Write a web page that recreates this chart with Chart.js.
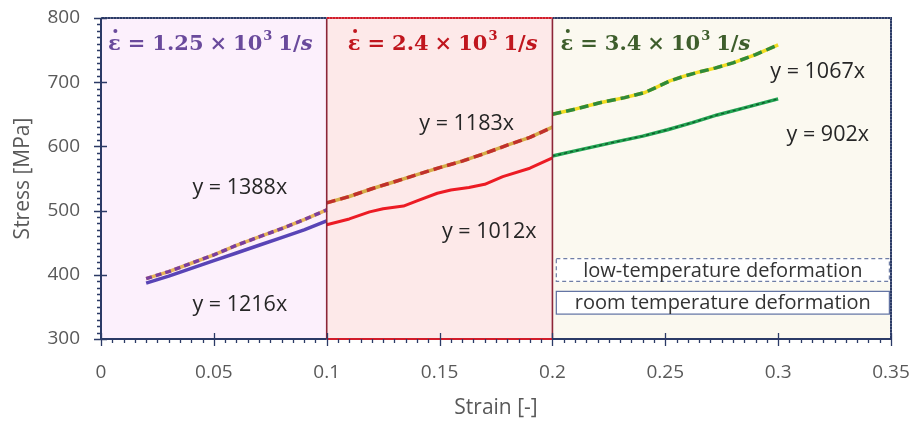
<!DOCTYPE html>
<html>
<head>
<meta charset="utf-8">
<script src="https://cdn.jsdelivr.net/npm/chart.js@4.4.1/dist/chart.umd.min.js"></script>
<style>
  html, body { margin: 0; padding: 0; background: #ffffff; }
  #wrap { width: 913px; height: 423px; }
</style>
</head>
<body>
<div id="wrap"><canvas id="c" width="913" height="423"></canvas></div>
<script>
// Stress–strain curves at three strain rates (room vs. low temperature)
const strainRoom1 = [0.02, 0.03, 0.04, 0.05, 0.06, 0.07, 0.08, 0.09, 0.1];
const stressRoom1 = [387, 398, 410, 422, 434, 446, 458, 470, 484];
const strainLow1  = [0.02, 0.03, 0.04, 0.05, 0.06, 0.07, 0.08, 0.09, 0.1];
const stressLow1  = [394, 405, 418, 431, 446, 459, 472, 486, 501];

const strainRoom2 = [0.1, 0.11, 0.119, 0.125, 0.134, 0.14, 0.149, 0.155, 0.163, 0.17, 0.178, 0.19, 0.2];
const stressRoom2 = [478, 487, 498, 503, 507, 515, 527, 532, 536, 541, 553, 566, 582];
const strainLow2  = [0.1, 0.11, 0.12, 0.13, 0.14, 0.15, 0.16, 0.17, 0.18, 0.19, 0.2];
const stressLow2  = [512, 522, 534, 545, 556, 567, 577, 589, 602, 614, 630];

const strainRoom3 = [0.2, 0.21, 0.228, 0.24, 0.251, 0.262, 0.273, 0.285, 0.3];
const stressRoom3 = [585, 593, 607, 616, 626, 637, 649, 660, 674];
const strainLow3  = [0.2, 0.21, 0.221, 0.232, 0.241, 0.246, 0.252, 0.258, 0.265, 0.272, 0.28, 0.29, 0.3];
const stressLow3  = [650, 658, 668, 676, 684, 692, 702, 709, 716, 722, 730, 743, 758];

// Strain-rate bands and their headings
const bandEdges = [0, 0.1, 0.2, 0.35];
const rateMantissa = ['1.25', '2.4', '3.4'];
const rateExponent = ['3', '3', '3'];

// Linear-fit annotations
const fitLabels = ['y = 1388x', 'y = 1216x', 'y = 1183x', 'y = 1012x', 'y = 1067x', 'y = 902x'];

// Legend entries
const legendLabels = ['low-temperature deformation', 'room temperature deformation'];

// Axis ticks
const strainTicks = [0, 0.05, 0.1, 0.15, 0.2, 0.25, 0.3, 0.35];
const stressTicks = [300, 400, 500, 600, 700, 800];

const pts = (xs, ys) => xs.map((x, i) => ({ x, y: ys[i] }));

// Styling
const bandFill = ['#fcf0fc', '#fde9e9', '#fbf9f0'];
const headColor = ['#6a4a9c', '#c0161e', '#3e5e2c'];
const headOffset = [7, 21, 8];
const fitAnchor = [[0.0615, 535], [0.0615, 353], [0.162, 635], [0.172, 467], [0.3175, 716], [0.322, 618]];
const navy = '#2b3a66';
const uiFont = '"Open Sans", sans-serif';

function line(data, color, width, dash, order) {
  return {
    data, borderColor: color, borderWidth: width, borderDash: dash || [],
    pointRadius: 0, fill: false, tension: 0, order,
    borderCapStyle: 'butt', borderJoinStyle: 'round'
  };
}

const datasets = [
  // low temperature: yellow base + coloured dashes
  line(pts(strainLow1, stressLow1), '#e6b456', 3.5, [], 4),
  line(pts(strainLow1, stressLow1), '#7a3e9e', 3.5, [6, 4], 3),
  line(pts(strainLow2, stressLow2), '#d6ad48', 3.5, [], 4),
  line(pts(strainLow2, stressLow2), '#c0302c', 3.5, [9, 5], 3),
  line(pts(strainLow3, stressLow3), '#f2dc22', 3.5, [], 4),
  line(pts(strainLow3, stressLow3), '#2f8a3a', 3.5, [9, 5], 3),
  // room temperature: solid lines
  line(pts(strainRoom1, stressRoom1), '#5944b6', 3.5, [], 2),
  line(pts(strainRoom2, stressRoom2), '#ec1b24', 3, [], 2),
  line(pts(strainRoom3, stressRoom3), '#22a452', 3.5, [], 2),
  line(pts(strainRoom3, stressRoom3), '#0f5a2c', 1.4, [3, 3], 1)
];

const bandsPlugin = {
  id: 'bands',
  beforeDatasetsDraw(chart) {
    const { ctx, chartArea: a, scales: { x } } = chart;
    ctx.save();
    for (let i = 0; i < bandEdges.length - 1; i++) {
      const x0 = x.getPixelForValue(bandEdges[i]);
      const x1 = x.getPixelForValue(bandEdges[i + 1]);
      ctx.fillStyle = bandFill[i];
      ctx.fillRect(x0, a.top, x1 - x0, a.bottom - a.top);
    }
    ctx.restore();
  },
  afterDatasetsDraw(chart) {
    const { ctx, chartArea: a, scales: { x } } = chart;
    ctx.save();
    // middle band outline
    const m0 = x.getPixelForValue(bandEdges[1]);
    const m1 = x.getPixelForValue(bandEdges[2]);
    ctx.strokeStyle = '#8c2638';
    ctx.lineWidth = 1.6;
    ctx.beginPath();
    ctx.moveTo(m0, a.top); ctx.lineTo(m0, a.bottom);
    ctx.moveTo(m1, a.top); ctx.lineTo(m1, a.bottom);
    ctx.stroke();
    // frame: top and right, dotted look
    ctx.strokeStyle = navy;
    ctx.lineWidth = 2;
    ctx.beginPath();
    ctx.moveTo(a.left, a.top); ctx.lineTo(m0, a.top);
    ctx.moveTo(m1, a.top); ctx.lineTo(a.right, a.top); ctx.lineTo(a.right, a.bottom);
    ctx.stroke();
    ctx.strokeStyle = '#d21c2a';
    ctx.beginPath();
    ctx.moveTo(m0, a.top); ctx.lineTo(m1, a.top);
    ctx.stroke();
    ctx.strokeStyle = 'rgba(255,255,255,0.45)';
    ctx.lineWidth = 1;
    ctx.setLineDash([1, 2]);
    ctx.beginPath();
    ctx.moveTo(a.left, a.top); ctx.lineTo(a.right, a.top); ctx.lineTo(a.right, a.bottom);
    ctx.stroke();
    ctx.setLineDash([]);
    ctx.restore();
  }
};

const axesPlugin = {
  id: 'axesTicks',
  afterDraw(chart) {
    const { ctx, chartArea: a, scales: { x, y } } = chart;
    ctx.save();
    ctx.strokeStyle = navy;
    ctx.lineWidth = 2;
    ctx.beginPath();
    ctx.moveTo(a.left, a.top); ctx.lineTo(a.left, a.bottom);
    const m0 = x.getPixelForValue(bandEdges[1]);
    const m1 = x.getPixelForValue(bandEdges[2]);
    ctx.moveTo(a.left, a.bottom); ctx.lineTo(m0, a.bottom);
    ctx.moveTo(m1, a.bottom); ctx.lineTo(a.right, a.bottom);
    ctx.stroke();
    ctx.strokeStyle = '#d21c2a';
    ctx.beginPath();
    ctx.moveTo(m0, a.bottom); ctx.lineTo(m1, a.bottom);
    ctx.stroke();

    ctx.strokeStyle = navy;
    ctx.lineWidth = 1.3;
    ctx.beginPath();
    // x minor ticks every 0.005, majors at labelled values
    for (let k = 0; k <= 70; k++) {
      const px = Math.round(x.getPixelForValue(k * 0.005)) + 0.5;
      if (k % 10 === 0) { ctx.moveTo(px, a.bottom - 6); ctx.lineTo(px, a.bottom + 7); }
      else { ctx.moveTo(px, a.bottom); ctx.lineTo(px, a.bottom + 4); }
    }
    // y minor ticks every 10 MPa
    for (let v = 300; v <= 800; v += 10) {
      const py = Math.round(y.getPixelForValue(v)) + 0.5;
      if (v % 100 === 0) { ctx.moveTo(a.left - 7, py); ctx.lineTo(a.left + 6, py); }
      else { ctx.moveTo(a.left - 4, py); ctx.lineTo(a.left, py); }
    }
    ctx.stroke();
    ctx.restore();
  }
};

function drawRuns(ctx, x, y, runs) {
  let cx = x;
  for (const r of runs) {
    ctx.font = r.font;
    const w = ctx.measureText(r.text).width;
    ctx.fillText(r.text, cx, y + (r.dy || 0));
    if (r.dot) {
      ctx.beginPath();
      ctx.arc(cx + w / 2 + 1, y - 19, 2, 0, Math.PI * 2);
      ctx.fill();
    }
    cx += w + (r.gap || 0);
  }
}

const textPlugin = {
  id: 'texts',
  afterDatasetsDraw(chart) {
    const { ctx, scales: { x, y } } = chart;
    ctx.save();
    // strain-rate headings
    ctx.textBaseline = 'alphabetic';
    ctx.textAlign = 'left';
    const serif = '"DejaVu Serif", "Liberation Serif", serif';
    const bold = 'bold 21px ' + serif;
    const sup = 'bold 13px ' + serif;
    const ital = 'bold italic 21px ' + serif;
    for (let i = 0; i < rateMantissa.length; i++) {
      ctx.fillStyle = headColor[i];
      const hx = x.getPixelForValue(bandEdges[i]) + headOffset[i];
      const hy = 50;
      drawRuns(ctx, hx, hy, [
        { text: 'ε', font: bold, dot: true, gap: 7 },
        { text: '=', font: bold, gap: 7 },
        { text: rateMantissa[i], font: bold, gap: 6 },
        { text: '×', font: bold, gap: 6 },
        { text: '10', font: bold, gap: 1 },
        { text: rateExponent[i], font: sup, dy: -10, gap: 6 },
        { text: '1/', font: bold },
        { text: 's', font: ital }
      ]);
    }
    // fit annotations
    ctx.fillStyle = '#262626';
    ctx.font = '21.5px ' + uiFont;
    ctx.textAlign = 'center';
    ctx.textBaseline = 'middle';
    fitLabels.forEach((t, i) => {
      ctx.fillText(t, x.getPixelForValue(fitAnchor[i][0]), y.getPixelForValue(fitAnchor[i][1]));
    });
    // legend boxes
    const lx0 = x.getPixelForValue(0.2015);
    const lx1 = x.getPixelForValue(0.3495);
    const boxes = [[426, 389], [375, 338]];
    ctx.font = '20px ' + uiFont;
    boxes.forEach((b, i) => {
      const t = y.getPixelForValue(b[0]), bt = y.getPixelForValue(b[1]);
      ctx.fillStyle = '#ffffff';
      ctx.fillRect(lx0, t, lx1 - lx0, bt - t);
      ctx.strokeStyle = i === 0 ? '#6f7ea6' : '#5d6fa0';
      ctx.lineWidth = 1.2;
      ctx.setLineDash(i === 0 ? [4, 3] : []);
      ctx.strokeRect(lx0 + 0.5, t + 0.5, lx1 - lx0 - 1, bt - t - 1);
      ctx.setLineDash([]);
      ctx.fillStyle = '#333333';
      ctx.fillText(legendLabels[i], (lx0 + lx1) / 2, (t + bt) / 2 + 1);
    });
    ctx.restore();
  }
};

new Chart(document.getElementById('c'), {
  type: 'line',
  data: { datasets },
  options: {
    responsive: false,
    animation: false,
    layout: { padding: { top: 18, right: 22, left: 0, bottom: 0 } },
    plugins: { legend: { display: false }, tooltip: { enabled: false } },
    scales: {
      x: {
        type: 'linear', min: 0, max: 0.35,
        afterBuildTicks: s => { s.ticks = strainTicks.map(v => ({ value: v })); },
        afterFit: s => { s.height = 84; s.paddingLeft = 0; s.paddingRight = 0; },
        grid: { display: false, drawTicks: false },
        border: { display: false },
        ticks: {
          padding: 22, color: '#595959', maxRotation: 0,
          font: { family: uiFont, size: 19 },
          callback: v => String(Number(v.toFixed(2)))
        },
        title: {
          display: true, text: 'Strain [-]', color: '#595959',
          font: { family: uiFont, size: 21 },
          padding: { top: 0, bottom: 2 }
        }
      },
      y: {
        type: 'linear', min: 300, max: 800,
        afterBuildTicks: s => { s.ticks = stressTicks.map(v => ({ value: v })); },
        afterFit: s => { s.width = 101; s.paddingTop = 0; s.paddingBottom = 0; },
        grid: { display: false, drawTicks: false },
        border: { display: false },
        ticks: {
          padding: 21, color: '#595959',
          font: { family: uiFont, size: 19 }
        },
        title: {
          display: true, text: 'Stress [MPa]', color: '#595959',
          font: { family: uiFont, size: 21 },
          padding: { top: 10, bottom: 8 }
        }
      }
    }
  },
  plugins: [bandsPlugin, axesPlugin, textPlugin]
});
</script>
</body>
</html>
